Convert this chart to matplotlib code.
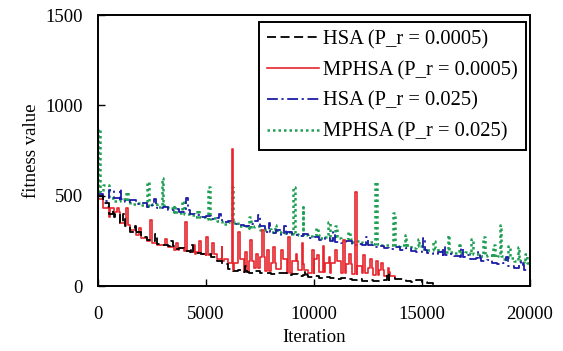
import numpy as np
import matplotlib
matplotlib.use("Agg")
import matplotlib.pyplot as plt

plt.rcParams['font.family'] = ['Liberation Serif', 'DejaVu Serif']

STEP = 250  # sampling interval of the base curves

# HSA (P_r = 0.0005), black dashed, ends near 15500
hsa_small = [500, 460, 400, 380, 350, 330, 300, 290, 270, 255, 250, 235, 230,
             220, 205, 210, 195, 190, 185, 180, 175, 160, 140, 120, 95, 85, 90,
             80, 75, 85, 70, 75, 65, 70, 72, 60, 65, 55, 60, 50, 55, 45, 50,
             45, 40, 45, 40, 35, 38, 30, 35, 30, 28, 32, 45, 40, 38, 30, 25,
             35, 20, 15, 5]
hsa_small_spikes = [(700, 420), (1150, 400), (1700, 330), (2650, 290),
                    (3400, 250), (4300, 225), (6800, 110), (9600, 85),
                    (13400, 70)]

# MPHSA (P_r = 0.0005), red solid, ends near 13750
mphsa_small = [480, 430, 380, 410, 350, 340, 310, 280, 265, 250, 240, 230, 225,
               215, 200, 210, 195, 190, 180, 185, 170, 175, 150, 140, 125, 90,
               150, 80, 140, 100, 160, 85, 130, 95, 150, 75, 140, 90, 120, 70,
               150, 80, 130, 70, 140, 75, 120, 65, 110, 70, 100, 60, 90, 55, 80,
               50]
mphsa_small_spikes = [(450, 440), (900, 430), (1300, 430), (1900, 320),
                      (2400, 365), (3100, 260), (3600, 240), (4030, 355),
                      (4450, 230), (4700, 250), (5000, 270), (5300, 240),
                      (5740, 216), (6200, 757), (6500, 300), (6800, 190),
                      (7040, 255), (7300, 180), (7600, 310), (7850, 200),
                      (8100, 216), (8500, 200), (8800, 270), (9150, 180),
                      (9440, 236), (9900, 200), (10150, 170), (10400, 220),
                      (10700, 160), (11000, 200), (11340, 255), (11650, 180),
                      (11900, 520), (12270, 172), (12600, 150), (12900, 140),
                      (13100, 130), (13450, 100)]

# HSA (P_r = 0.025), blue dash-dot
hsa_large = [510, 470, 530, 490, 480, 465, 475, 455, 460, 440, 450, 430, 440,
             420, 425, 410, 420, 400, 395, 385, 390, 370, 375, 355, 360, 345,
             340, 330, 345, 360, 330, 300, 295, 310, 285, 300, 280, 275, 290,
             265, 270, 255, 265, 250, 245, 240, 250, 230, 235, 225, 230, 215,
             220, 210, 205, 215, 200, 210, 195, 190, 200, 185, 180, 190, 170,
             175, 165, 160, 170, 150, 155, 140, 145, 130, 120, 130, 110, 100,
             115, 90, 80]
hsa_large_spikes = [(1000, 540), (2600, 480), (4100, 490), (5600, 400),
                    (7400, 395), (7900, 350), (8600, 330), (10900, 300),
                    (12400, 270), (15050, 265), (16000, 215), (16800, 210),
                    (17600, 190), (18900, 160), (19600, 140)]

# MPHSA (P_r = 0.025), green dotted
mphsa_large = [520, 560, 490, 470, 480, 470, 455, 460, 450, 445, 455, 440, 450,
               430, 410, 405, 400, 395, 380, 385, 370, 375, 360, 345, 355, 350,
               330, 335, 320, 330, 310, 315, 300, 305, 295, 300, 290, 285, 280,
               275, 280, 265, 270, 260, 265, 255, 260, 245, 250, 240, 245, 235,
               230, 225, 230, 220, 225, 215, 210, 220, 205, 200, 210, 195, 190,
               200, 185, 180, 190, 175, 180, 165, 170, 160, 165, 150, 155, 140,
               145, 130, 125]
mphsa_large_spikes = [(0, 870), (1300, 520), (2270, 575), (2960, 598),
                      (3500, 450), (3900, 470), (4600, 420), (5090, 548),
                      (6200, 548), (7000, 380), (8200, 340), (9030, 548),
                      (9490, 437), (10100, 320), (10650, 355), (11000, 330),
                      (11600, 300), (12820, 575), (13650, 404), (14200, 282),
                      (14800, 260), (15500, 250), (16200, 280), (16700, 240),
                      (17300, 260), (17820, 272), (18300, 230), (18600, 337),
                      (19000, 220), (19440, 216), (19800, 180)]


def build(base, spikes, width=90):
    xs = list(np.arange(len(base)) * STEP)
    ys = list(base)
    pts = list(zip(xs, ys))
    for s, v in spikes:
        b = base[min(int(s // STEP), len(base) - 1)]
        pts.append((s, v))
        pts.append((s + width, b))
    pts.sort(key=lambda p: p[0])
    x, y = zip(*pts)
    return np.array(x), np.array(y)


fig = plt.figure(figsize=(5.63, 3.51), dpi=100)
ax = fig.add_axes([0.174, 0.185, 0.767, 0.772])

series = [
    (hsa_small, hsa_small_spikes, 'HSA (P_r = 0.0005)',
     dict(color='black', ls=(0, (5, 2.5)), lw=1.3)),
    (mphsa_small, mphsa_small_spikes, 'MPHSA (P_r = 0.0005)',
     dict(color='#e8252e', ls='-', lw=1.2)),
    (hsa_large, hsa_large_spikes, 'HSA (P_r = 0.025)',
     dict(color='#1c1ca6', ls=(0, (6, 2, 1.2, 2)), lw=1.3)),
    (mphsa_large, mphsa_large_spikes, 'MPHSA (P_r = 0.025)',
     dict(color='#1fa055', ls=(0, (1, 1.2)), lw=1.8)),
]

# green and blue go behind red/black
handles = {}
for i in [3, 2, 1, 0]:
    base, spikes, label, style = series[i]
    x, y = build(base, spikes)
    h, = ax.plot(x, y, drawstyle='steps-post', label=label, **style)
    handles[i] = h

ax.set_xlim(0, 20000)
ax.set_ylim(0, 1500)
ax.set_xticks([0, 5000, 10000, 15000, 20000])
ax.set_yticks([0, 500, 1000, 1500])
ax.tick_params(direction='in', length=5, width=1, labelsize=13.5)
ax.tick_params(axis='x', pad=14)
ax.tick_params(axis='y', pad=11)
for sp in ax.spines.values():
    sp.set_linewidth(1.4)

ax.set_xlabel('Iteration', fontsize=13.5, labelpad=5)
ax.set_ylabel('fitness value', fontsize=13.5, labelpad=4)

leg = ax.legend([handles[i] for i in range(4)],
                [series[i][2] for i in range(4)],
                loc='upper right', bbox_to_anchor=(1.0, 0.99),
                fontsize=14.8, frameon=True, fancybox=False, framealpha=1,
                edgecolor='black', handlelength=2.55, handletextpad=0.2,
                labelspacing=0.56, borderpad=0.38, borderaxespad=0.2)
leg.get_frame().set_linewidth(1.4)

fig.savefig('out.png', dpi=100)
